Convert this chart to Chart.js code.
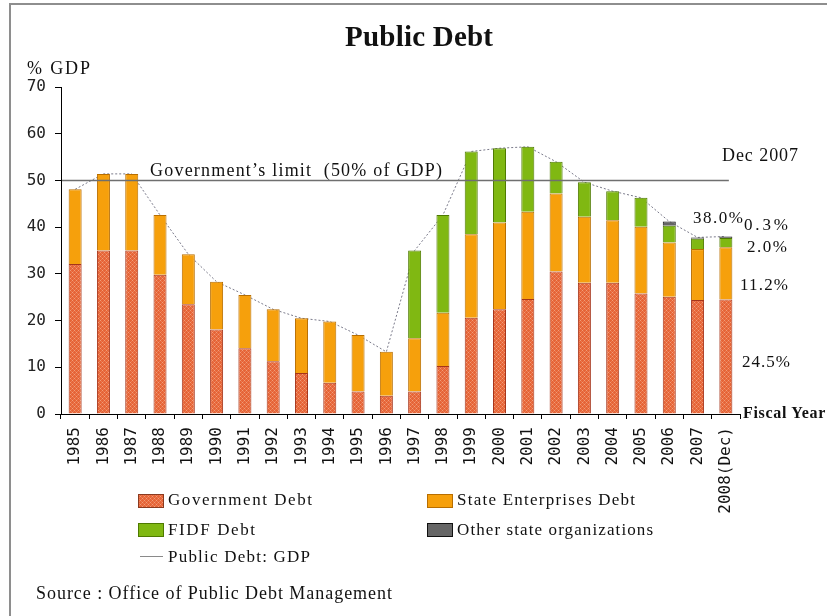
<!DOCTYPE html>
<html>
<head>
<meta charset="utf-8">
<script src="https://cdn.jsdelivr.net/npm/chart.js@4/dist/chart.umd.min.js"></script>
<style>
  html, body { margin: 0; padding: 0; background: #fff; }
  #wrap { position: relative; width: 827px; height: 616px; overflow: hidden; background: #fff; }
  #frame { position: absolute; left: 9px; top: 3px; right: -10px; bottom: -10px;
           border-left: 2px solid #8e8e8e; border-top: 2px solid #8e8e8e; }
  canvas#chart { position: absolute; left: 0; top: 0; }
  .t { position: absolute; white-space: pre; line-height: 1; color: #111;
       font-family: "Liberation Serif", "Times New Roman", serif; }
  .sw { position: absolute; }
</style>
</head>
<body>
<div id="wrap">
  <div id="frame"></div>
  <canvas id="chart" width="827" height="616"></canvas>
</div>
<script>
// ---------------- DATA ----------------
const categories = ['1985','1986','1987','1988','1989','1990','1991','1992','1993','1994','1995','1996',
                    '1997','1998','1999','2000','2001','2002','2003','2004','2005','2006','2007','2008(Dec)'];
const governmentDebt       = [32.1,35.0,35.0,29.8,23.5,18.1,14.1,11.3,8.8,6.7,4.8,3.9,
                              4.8,10.3,20.6,22.4,24.6,30.5,28.1,28.1,25.8,25.1,24.4,24.5];
const stateEnterprisesDebt = [16.0,16.4,16.4,12.8,10.7,10.2,11.4,11.1,11.7,13.1,12.1,9.4,
                              11.4,11.4,17.9,18.6,18.7,16.7,14.1,13.4,14.3,11.6,10.9,11.2];
const fidfDebt             = [null,null,null,null,null,null,null,null,null,null,null,null,
                              18.8,20.9,17.7,15.9,13.9,6.8,7.4,6.2,6.2,3.6,2.2,2.0];
const otherStateOrgs       = [null,null,null,null,null,null,null,null,null,null,null,null,
                              null,null,null,null,null,null,null,null,null,0.9,0.3,0.3];
const publicDebtGDP        = [48.1,51.4,51.4,42.6,34.2,28.3,25.5,22.4,20.5,19.8,16.9,13.3,
                              35.0,42.6,56.2,56.9,57.2,54.0,49.6,47.7,46.3,41.2,37.8,38.0];
const governmentLimit = 50;
const yMin = 0, yMax = 70, yStep = 10;
const lastLabels = ['24.5%', '11.2%', '2.0%', '0.3%', '38.0%'];

// ---------------- STYLE ----------------
function makeGovPattern(ctx) {
  const c = document.createElement('canvas');
  c.width = 4; c.height = 4;
  const g = c.getContext('2d');
  g.fillStyle = '#e66436'; g.fillRect(0, 0, 4, 4);
  g.fillStyle = '#f29c78';
  g.fillRect(0, 0, 1, 1); g.fillRect(2, 2, 1, 1);
  g.fillStyle = '#ea7c55';
  g.fillRect(1, 1, 1, 1); g.fillRect(3, 3, 1, 1); g.fillRect(3, 1, 1, 1); g.fillRect(1, 3, 1, 1);
  return ctx.createPattern(c, 'repeat');
}
const cvs = document.getElementById('chart');
const ctx = cvs.getContext('2d');
const govPattern = makeGovPattern(ctx);

const colors = {
  gov:   { fill: govPattern, border: '#a5341a' },
  se:    { fill: '#f6a00c', border: '#b86e00' },
  fidf:  { fill: '#80b812', border: '#4e7a00' },
  other: { fill: '#666666', border: '#111111' },
  line:  '#7a7a8a'
};

const PLOT = { left: 61, right: 740, top: 87, bottom: 414 };

const limitPlugin = {
  id: 'limitLine',
  afterDatasetsDraw(chart) {
    const { ctx, chartArea, scales } = chart;
    const y = Math.round(scales.y.getPixelForValue(governmentLimit)) + 0.5;
    const xEnd = scales.x.getPixelForValue(categories.length - 1) + 3;
    ctx.save();
    ctx.strokeStyle = '#6f6f6f';
    ctx.lineWidth = 1.3;
    ctx.beginPath();
    ctx.moveTo(chartArea.left + 1, y);
    ctx.lineTo(xEnd, y);
    ctx.stroke();
    ctx.restore();
  }
};

new Chart(ctx, {
  type: 'bar',
  data: {
    labels: categories,
    datasets: [
      { label: 'Government Debt', data: governmentDebt, backgroundColor: colors.gov.fill,
        borderColor: colors.gov.border, borderWidth: 1, stack: 'debt', order: 1 },
      { label: 'State Enterprises Debt', data: stateEnterprisesDebt, backgroundColor: colors.se.fill,
        borderColor: colors.se.border, borderWidth: 1, stack: 'debt', order: 1 },
      { label: 'FIDF Debt', data: fidfDebt, backgroundColor: colors.fidf.fill,
        borderColor: colors.fidf.border, borderWidth: 1, stack: 'debt', order: 1 },
      { label: 'Other state organizations', data: otherStateOrgs, backgroundColor: colors.other.fill,
        borderColor: colors.other.border, borderWidth: 1, stack: 'debt', order: 1 },
      { type: 'line', label: 'Public Debt: GDP', data: publicDebtGDP, borderColor: colors.line,
        borderWidth: 1, borderDash: [2, 2], pointRadius: 0, tension: 0, fill: false,
        stack: 'line', order: 2 }
    ]
  },
  options: {
    responsive: false,
    animation: false,
    devicePixelRatio: 1,
    layout: { padding: { left: 0, top: PLOT.top, right: 827 - PLOT.right, bottom: 0 } },
    datasets: { bar: { barPercentage: 0.46, categoryPercentage: 1.0 } },
    plugins: { legend: { display: false }, title: { display: false }, tooltip: { enabled: false } },
    scales: {
      x: {
        stacked: true,
        afterFit(s) { s.height = 616 - PLOT.bottom; },
        grid: { display: true, drawOnChartArea: false, drawTicks: true, tickLength: 5, color: '#000', offset: true },
        border: { display: true, color: '#000', width: 1 },
        ticks: { autoSkip: false, maxRotation: 90, minRotation: 90, padding: 8, color: '#111',
                 font: { family: 'DejaVu Sans Mono', size: 16 } }
      },
      y: {
        stacked: true,
        min: yMin, max: yMax,
        afterFit(s) { s.width = PLOT.left; },
        grid: { display: true, drawOnChartArea: false, drawTicks: true, tickLength: 6, color: '#000' },
        border: { display: true, color: '#000', width: 1 },
        ticks: { stepSize: yStep, padding: 9, color: '#222',
                 font: { family: 'DejaVu Sans Mono', size: 16 } }
      }
    }
  },
  plugins: [limitPlugin]
});

// ---------------- TEXT ----------------
const wrap = document.getElementById('wrap');
const mctx = document.createElement('canvas').getContext('2d');
function place(txt, x0, x1, cy, size, bold) {
  const el = document.createElement('div');
  el.className = 't';
  el.textContent = txt;
  const font = (bold ? 'bold ' : '') + size + 'px "Liberation Serif"';
  el.style.font = font;
  el.style.lineHeight = '1';
  mctx.font = font;
  const w = mctx.measureText(txt).width;
  const n = txt.length;
  const ls = n > 1 ? (x1 - x0 - w) / (n - 1) : 0;
  el.style.letterSpacing = ls.toFixed(2) + 'px';
  el.style.left = x0 + 'px';
  el.style.top = (cy - 0.507 * size) + 'px';
  wrap.appendChild(el);
  return el;
}
function swatch(x, y, w, h, fill, border) {
  const c = document.createElement('canvas');
  c.width = w; c.height = h; c.className = 'sw';
  c.style.left = x + 'px'; c.style.top = y + 'px';
  const g = c.getContext('2d');
  g.fillStyle = (fill === 'gov') ? makeGovPattern(g) : fill;
  g.fillRect(0, 0, w, h);
  g.strokeStyle = border; g.lineWidth = 1;
  g.strokeRect(0.5, 0.5, w - 1, h - 1);
  wrap.appendChild(c);
}

place('Public Debt', 345, 493, 37, 29, true);
place('% GDP', 27, 90, 68.5, 18, false);
place('Government\u2019s limit  (50% of GDP)', 150, 442, 170, 18, false);
place('Dec 2007', 722, 798, 155, 18, false);
place(lastLabels[4], 693, 743, 218, 17, false);
place(lastLabels[3], 744, 788, 225, 17, false);
place(lastLabels[2], 747, 787, 247, 17, false);
place(lastLabels[1], 740, 788, 285, 17, false);
place(lastLabels[0], 742, 790, 362, 17, false);
place('Fiscal Year', 743, 826, 413, 16, true);

// legend
swatch(138, 494, 26, 14, 'gov', '#8a3a20');
place('Government Debt', 168, 312, 500, 17, false);
swatch(427, 494, 26, 14, colors.se.fill, '#b86e00');
place('State Enterprises Debt', 457, 635, 500, 17, false);
swatch(138, 523, 26, 14, colors.fidf.fill, '#4e7a00');
place('FIDF Debt', 168, 255, 530, 17, false);
swatch(427, 523, 26, 14, colors.other.fill, '#111');
place('Other state organizations', 457, 653, 530, 17, false);
(function () {
  const d = document.createElement('div');
  d.style.cssText = 'position:absolute;left:140px;top:556px;width:23px;height:1px;background:#8a8a8a;';
  wrap.appendChild(d);
})();
place('Public Debt: GDP', 168, 310, 557, 17, false);
place('Source : Office of Public Debt Management', 36, 392, 593, 18, false);
</script>
</body>
</html>
